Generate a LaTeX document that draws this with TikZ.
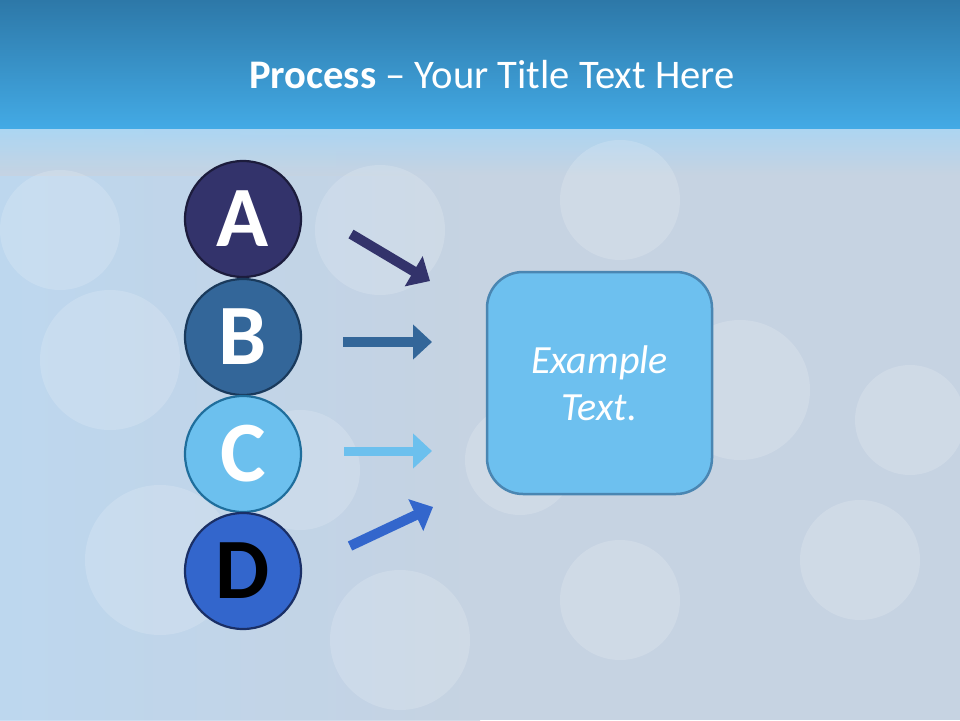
\documentclass[tikz,border=0pt]{standalone}
\usepackage{fontspec}
\setmainfont{Carlito}
\usetikzlibrary{arrows.meta,shapes.geometric}
\definecolor{topA}{HTML}{2D78A8}
\definecolor{topB}{HTML}{43AAE5}
\definecolor{glow}{HTML}{A9D6F4}
\definecolor{bgA}{HTML}{C6D3E2}
\definecolor{bgL}{HTML}{BBD8F2}
\definecolor{colA}{HTML}{33336B}
\definecolor{colB}{HTML}{336699}
\definecolor{colC}{HTML}{6CC0EE}
\definecolor{colD}{HTML}{3366CC}
\definecolor{edA}{HTML}{1C1C3C}
\definecolor{edB}{HTML}{1A3A5C}
\definecolor{edC}{HTML}{1F6E9C}
\definecolor{edD}{HTML}{1A2F66}
\definecolor{boxF}{HTML}{6DC0EF}
\definecolor{boxE}{HTML}{4A86B2}
\tikzset{
  letter/.style={circle, minimum size=116pt, inner sep=0pt, line width=2.2pt,
    font=\fontsize{86}{86}\selectfont\bfseries},
  arr/.style={line width=10pt, -{Triangle[width=34pt,length=19pt]}},
  blob/.style={white, opacity=0.16},
}
\begin{document}
\begin{tikzpicture}[x=1pt,y=-1pt]
\useasboundingbox (0,0) rectangle (960,720);
% background
\fill[bgA] (0,120) rectangle (960,720);
\shade[left color=bgL, right color=bgA, opacity=0.8] (0,120) rectangle (480,720);
\shade[top color=glow, bottom color=bgA, opacity=0.9] (0,127) rectangle (960,175);
% bokeh blobs
\fill[blob] (110,360) circle (70);
\fill[blob] (60,230) circle (60);
\fill[blob] (380,230) circle (65);
\fill[blob] (620,200) circle (60);
\fill[blob] (740,390) circle (70);
\fill[blob] (910,420) circle (55);
\fill[blob] (160,560) circle (75);
\fill[blob] (400,640) circle (70);
\fill[blob] (620,600) circle (60);
\fill[blob] (860,560) circle (60);
\fill[blob] (300,470) circle (60);
\fill[blob] (520,460) circle (55);
% top band
\shade[top color=topA, bottom color=topB] (0,0) rectangle (960,128);
% title
\node[text=white, font=\fontsize{40.6}{40}\selectfont] (title) at (492,75)
  {\textbf{Process} – Your Title Text Here};
% circles
\node[letter, fill=colA, draw=edA, text=white] (ca) at (243,219) {A};
\node[letter, fill=colB, draw=edB, text=white] (cb) at (243,337) {B};
\node[letter, fill=colC, draw=edC, text=white] (cc) at (243,454) {C};
\node[letter, fill=colD, draw=edD, text=black] (cd) at (243,571) {D};
% box
\node[draw=boxE, fill=boxF, line width=2.5pt, rounded corners=36pt,
  minimum width=225pt, minimum height=222pt, align=center, text=white,
  font=\fontsize{40}{47}\selectfont\itshape] (box) at (599.5,383) {Example\\Text.};
% arrows
\coordinate (a1) at (351,234); \coordinate (a2) at (430,281);
\coordinate (b1) at (343,342); \coordinate (b2) at (432,342);
\coordinate (c1) at (344,451); \coordinate (c2) at (432,451);
\coordinate (d1) at (350,546); \coordinate (d2) at (433,507);
\draw[arr, colA] (a1) -- (a2);
\draw[arr, colB] (b1) -- (b2);
\draw[arr, colC, line width=9pt] (c1) -- (c2);
\draw[arr, colD] (d1) -- (d2);
\end{tikzpicture}
\end{document}
